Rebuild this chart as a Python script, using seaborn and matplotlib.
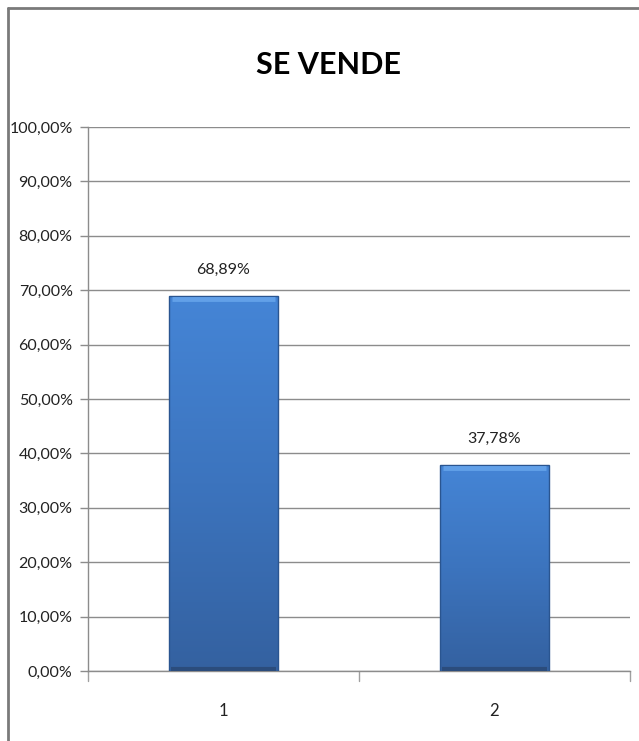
import numpy as np
import pandas as pd
import matplotlib
matplotlib.use("Agg")
import matplotlib.pyplot as plt
from matplotlib.lines import Line2D
from matplotlib.colors import LinearSegmentedColormap
import seaborn as sns

categories = ["1", "2"]
values = [0.6889, 0.3778]
value_labels = ["68,89%", "37,78%"]
y_ticks = [0.0, 0.1, 0.2, 0.3, 0.4, 0.5, 0.6, 0.7, 0.8, 0.9, 1.0]
y_tick_labels = ["0,00%", "10,00%", "20,00%", "30,00%", "40,00%", "50,00%",
                 "60,00%", "70,00%", "80,00%", "90,00%", "100,00%"]
title = "SE VENDE"

sns.set_theme(style="white")
plt.rcParams["font.family"] = ["Lato", "DejaVu Sans"]

fig = plt.figure(figsize=(6.39, 7.41), dpi=100)
ax = fig.add_axes([88 / 639, 1 - 671 / 741, 542 / 639, 544 / 741])

df = pd.DataFrame({"cat": categories, "val": values})
sns.barplot(data=df, x="cat", y="val", color="#3d78c4", width=0.4,
            saturation=1, ax=ax, zorder=3)

ax.set_ylim(0, 1)
ax.set_xlim(-0.5, 1.5)

# vertical gradient and bevel on each bar
grad = LinearSegmentedColormap.from_list("bar", ["#3461a0", "#3c74be", "#4585d6"])
for p in ax.patches:
    x0, y0 = p.get_x(), p.get_y()
    w, h = p.get_width(), p.get_height()
    im = ax.imshow(np.linspace(0, 1, 256).reshape(-1, 1), cmap=grad, aspect="auto",
                   origin="lower", extent=[x0, x0 + w, y0, y0 + h], zorder=3.5)
    im.set_clip_path(p)
    p.set_edgecolor("#2a5590")
    p.set_linewidth(1.0)
    p.set_zorder(4)
    p.set_facecolor("none")
    # highlight along top edge
    ax.plot([x0 + 0.01, x0 + w - 0.01], [y0 + h - 0.005, y0 + h - 0.005],
            color="#62a0e8", lw=3.5, zorder=4.5, solid_capstyle="butt")
    # shadow along bottom
    ax.plot([x0 + 0.005, x0 + w - 0.005], [0.004, 0.004],
            color="#2b4c7c", lw=3, zorder=4.5, solid_capstyle="butt")

ax.set_xlim(-0.5, 1.5)
ax.set_ylim(0, 1)

for i, (v, lab) in enumerate(zip(values, value_labels)):
    ax.text(i, v + 0.048, lab, ha="center", va="center", fontsize=11.5, color="#222222")

ax.set_yticks(y_ticks)
ax.set_yticklabels(y_tick_labels, fontsize=11.5, color="#222222")
ax.set_xticks([0, 1])
ax.set_xticklabels(categories, fontsize=12, color="#222222")
ax.set_xlabel("")
ax.set_ylabel("")

ax.grid(axis="y", color="#8c8c8c", linewidth=1.0, zorder=0)
ax.grid(axis="x", visible=False)
for side in ["top", "right"]:
    ax.spines[side].set_visible(False)
for side in ["left", "bottom"]:
    ax.spines[side].set_color("#8c8c8c")
    ax.spines[side].set_linewidth(1.0)

ax.tick_params(axis="y", left=True, length=6, width=1, color="#8c8c8c", pad=5)
ax.tick_params(axis="x", bottom=False, pad=17)

# category separator ticks below the axis
for xb in [-0.5, 0.5, 1.5]:
    ax.plot([xb, xb], [0, -0.018], color="#a0a0a0", lw=1, clip_on=False, zorder=1)

fig.text(328 / 639, 1 - 65 / 741, title, ha="center", va="center",
         fontsize=22, fontweight="bold", color="black")

# chart-area border
fig.add_artist(Line2D([8 / 639, 8 / 639], [0, 1 - 8 / 741], color="#7a7a7a", lw=2))
fig.add_artist(Line2D([8 / 639, 1], [1 - 8 / 741, 1 - 8 / 741], color="#7a7a7a", lw=2))

fig.savefig("out.png", dpi=100)
